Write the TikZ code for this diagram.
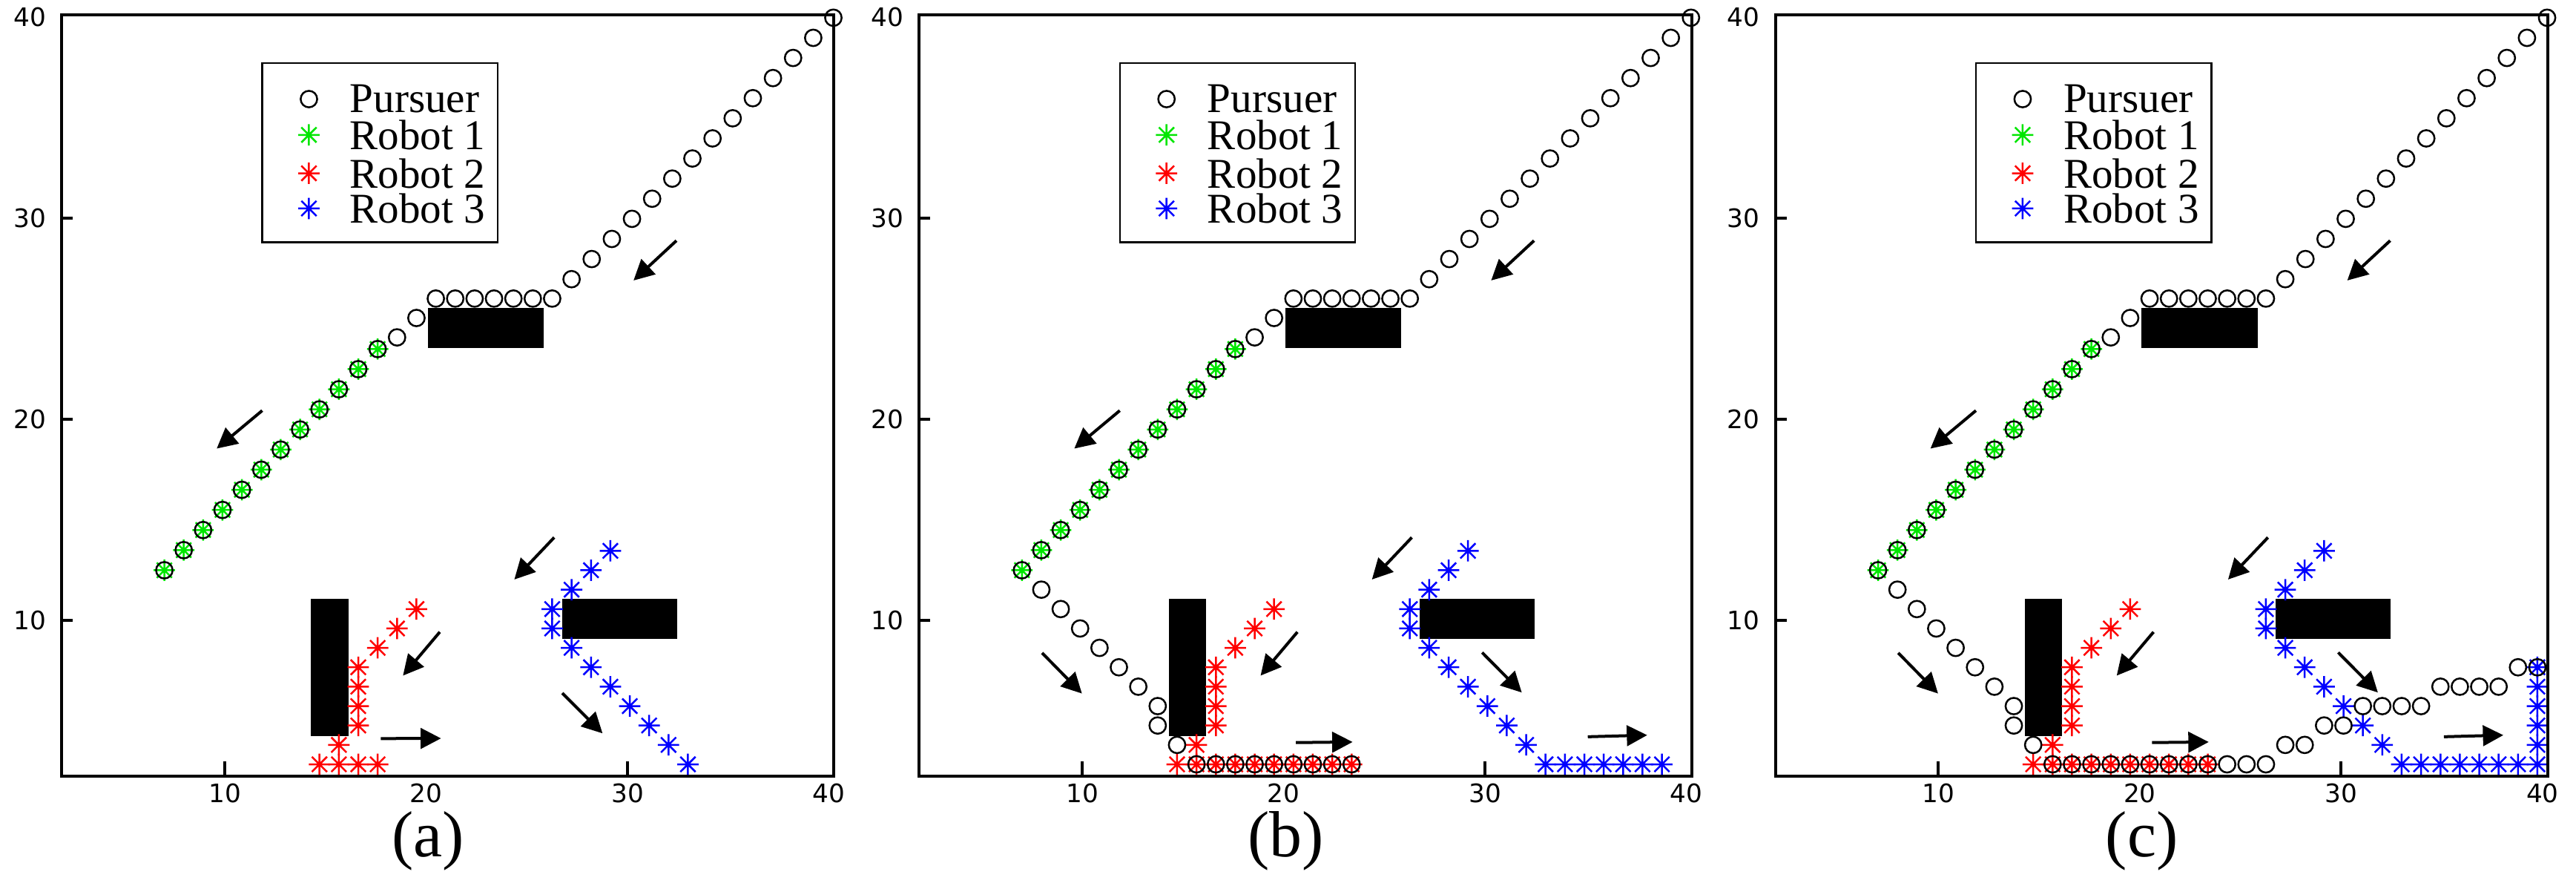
\documentclass[tikz,border=0pt]{standalone}
\usepackage{fontspec}
\setmainfont{Liberation Serif}
\newfontfamily\ticksf{DejaVu Sans}
\usetikzlibrary{arrows.meta}
\definecolor{rgreen}{RGB}{0,230,0}
\definecolor{rred}{RGB}{255,0,0}
\definecolor{rblue}{RGB}{0,0,255}
\tikzset{
  frame/.style={line width=0.08cm},
  mk/.style={line width=0.05cm},
  dirarrow/.style={line width=0.08cm,-{Triangle[length=0.55cm,width=0.55cm]}},
  obst/.style={fill=black,draw=none},
  ticklab/.style={font=\ticksf\fontsize{19.5pt}{22pt}\selectfont,inner sep=0pt},
  leglab/.style={font=\fontsize{32.5pt}{36pt}\selectfont,anchor=west,inner sep=0pt},
  panlab/.style={font=\fontsize{50pt}{56pt}\selectfont,inner sep=0pt}
}
\newcommand{\mystar}[3]{%
  \draw[#1,mk] (#2,#3) ++(-0.53,0) -- ++(1.06,0)
    (#2,#3) ++(0,-0.53) -- ++(0,1.06)
    (#2,#3) ++(-0.375,-0.375) -- ++(0.75,0.75)
    (#2,#3) ++(-0.375,0.375) -- ++(0.75,-0.75);}
\newcommand{\gst}[3]{\mystar{#1}{7+0.963*#2}{2.84+0.965*#3}}
\newcommand{\gci}[2]{\draw[mk,black] (7+0.963*#1,2.84+0.965*#2) circle[radius=0.41];}
\newcommand{\panel}[3]{% offset px, label, variant
\begin{scope}[shift={(#1*0.02cm+31.5*0.02cm,87*0.02cm)},x=0.543cm,y=0.542cm]
  % obstacles
  \fill[obst] (14.29,4.25) rectangle (16.14,11.06);
  \fill[obst] (26.74,9.09) rectangle (32.45,11.07);
  \fill[obst] (20.09,23.55) rectangle (25.84,25.55);
  % robot 1
  \foreach \k in {0,...,11} {\gst{rgreen}{\k}{10+\k}}
  % robot 2
  \foreach \i/\j in {13/8,12/7,11/6,10/5,10/4,10/3,10/2,9/1,8/0} {\gst{rred}{\i}{\j}}
  % robot 3
  \foreach \i/\j in {23/11,22/10,21/9,20/8,20/7,21/6,22/5,23/4,24/3,25/2,26/1,27/0} {\gst{rblue}{\i}{\j}}
  \ifcase#3
    \foreach \i in {9,10,11} {\gst{rred}{\i}{0}}
  \or
    \foreach \i in {9,...,17} {\gst{rred}{\i}{0}}
    \foreach \i in {28,...,33} {\gst{rblue}{\i}{0}}
  \or
    \foreach \i in {9,...,17} {\gst{rred}{\i}{0}}
    \foreach \i in {28,...,34} {\gst{rblue}{\i}{0}}
    \foreach \j in {1,...,5} {\gst{rblue}{34}{\j}}
  \fi
  % pursuer
  \foreach \k in {0,...,11} {\gci{\k}{10+\k}}
  \gci{12}{22}\gci{13}{23}
  \foreach \i in {14,...,20} {\gci{\i}{24}}
  \foreach \k in {0,...,13} {\gci{21+\k}{25+\k}}
  \ifnum#3>0
    \foreach \i/\j in {1/9,2/8,3/7,4/6,5/5,6/4,7/3,7/2,8/1} {\gci{\i}{\j}}
    \foreach \i in {9,...,17} {\gci{\i}{0}}
  \fi
  \ifnum#3>1
    \foreach \i/\j in {18/0,19/0,20/0,21/1,22/1,23/2,24/2,25/3,26/3,27/3,28/3,29/4,30/4,31/4,32/4,33/5,34/5} {\gci{\i}{\j}}
  \fi
  % arrows
  \draw[dirarrow] (32.43,28.88) -- (30.3,26.9);
  \draw[dirarrow] (11.86,20.43) -- (9.6,18.54);
  \draw[dirarrow] (26.36,14.12) -- (24.38,12.03);
  \draw[dirarrow] (20.68,9.42) -- (18.85,7.25);
  \ifnum#3=0
    \draw[dirarrow] (17.75,4.12) -- (20.74,4.13);
    \draw[dirarrow] (26.76,6.38) -- (28.76,4.38);
  \else
    \draw[dirarrow] (8.0,8.38) -- (9.98,6.36);
    \draw[dirarrow] (20.6,3.92) -- (23.42,3.95);
    \draw[dirarrow] (29.85,8.4) -- (31.82,6.41);
    \draw[dirarrow] (35.1,4.21) -- (38.05,4.29);
  \fi
  % legend
  \draw[line width=0.045cm,fill=white] (11.86,28.8) rectangle (23.55,37.7);
  \draw[mk] (14.18,35.92) circle[radius=0.41];
  \node[leglab] at (16.2,35.92) {Pursuer};
  \mystar{rgreen}{14.18}{34.14}
  \node[leglab] at (16.2,34.14) {Robot 1};
  \mystar{rred}{14.18}{32.23}
  \node[leglab] at (16.2,32.23) {Robot 2};
  \mystar{rblue}{14.18}{30.48}
  \node[leglab] at (16.2,30.48) {Robot 3};
  % axes
  \draw[frame] (1.9,2.25) rectangle (40.25,40.1);
  \foreach \v in {10,30} {\draw[frame] (\v,2.25) -- ++(0,0.75);}
  \foreach \v in {10,20,30} {\draw[frame] (1.9,\v) -- ++(0.55,0);}
  \foreach \v in {10,20,30,40} {\node[ticklab] at (\v,1.4) {\v};}
  \foreach \v in {10,20,30,40} {\node[ticklab,anchor=east] at (1.13,\v) {\v};}
  \node[panlab] at (20.1,-0.98) {#2};
\end{scope}}
\begin{document}
\begin{tikzpicture}
\useasboundingbox (0,0) rectangle (69.46cm,23.88cm);
\panel{0}{(a)}{0}
\panel{1156}{(b)}{1}
\panel{2310}{(c)}{2}
\end{tikzpicture}
\end{document}
